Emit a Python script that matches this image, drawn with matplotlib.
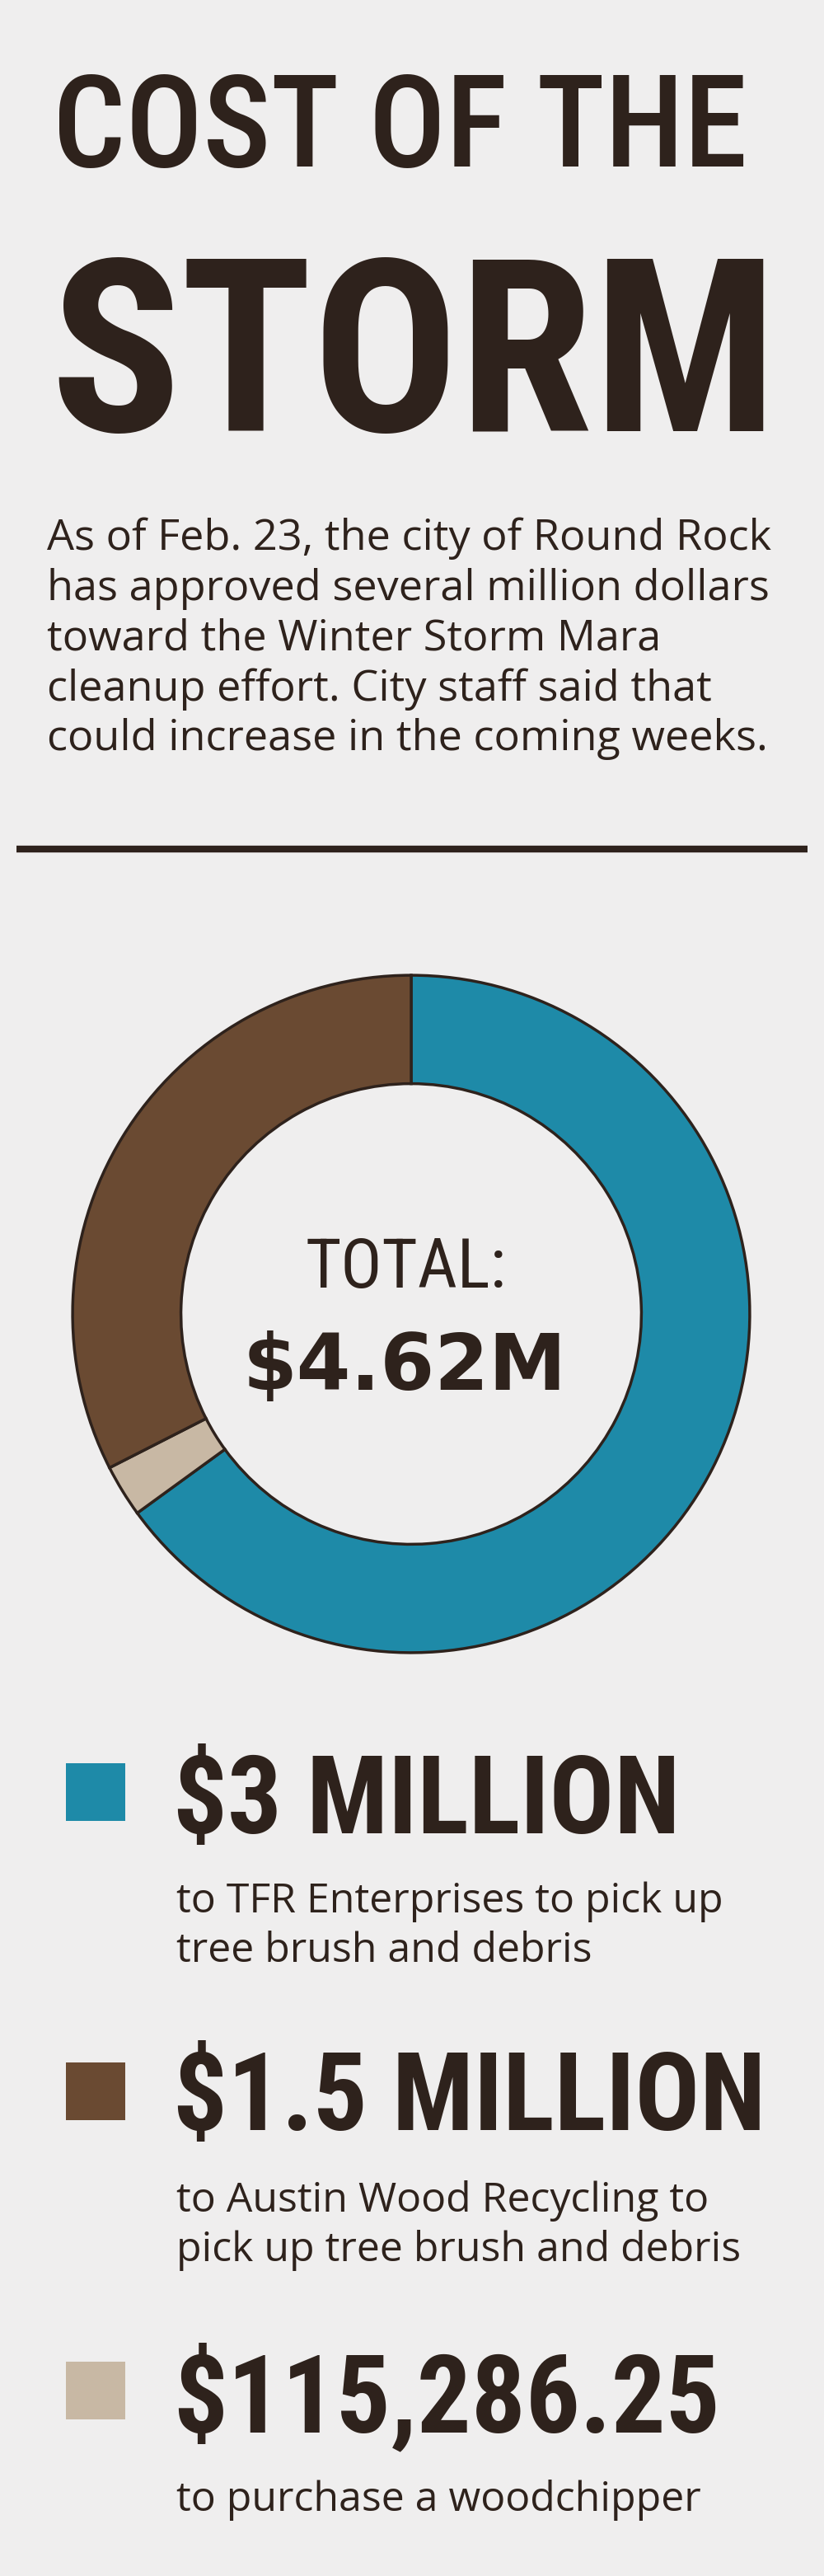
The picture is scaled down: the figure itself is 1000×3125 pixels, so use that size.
import matplotlib.pyplot as plt
from matplotlib.patches import Rectangle

# data
labels = ['$3 MILLION', '$1.5 MILLION', '$115,286.25']
values = [3000000, 1500000, 115286.25]
descriptions = ['to TFR Enterprises to pick up\ntree brush and debris',
                'to Austin Wood Recycling to\npick up tree brush and debris',
                'to purchase a woodchipper']
colors = ['#1e8aa8', '#6a4a32', '#c8b8a4']
ring_order = [0, 2, 1]  # teal, beige, brown going clockwise from the top
total_label = 'TOTAL:'
total_value = '$4.62M'
title1 = 'COST OF THE'
title2 = 'STORM'
intro = ('As of Feb. 23, the city of Round Rock\n'
         'has approved several million dollars\n'
         'toward the Winter Storm Mara\n'
         'cleanup effort. City staff said that\n'
         'could increase in the coming weeks.')

bg = '#efeeee'
ink = '#2e221c'
narrow = ['Liberation Sans Narrow', 'Roboto Condensed', 'DejaVu Sans']
body = ['Open Sans', 'Noto Sans', 'DejaVu Sans']

fig = plt.figure(figsize=(10, 31.25), dpi=100)
fig.patch.set_facecolor(bg)

# full-page axes in pixel coordinates (y downward)
page = fig.add_axes([0, 0, 1, 1])
page.set_xlim(0, 1000)
page.set_ylim(3125, 0)
page.axis('off')

page.text(64, 202, title1, family=narrow, fontsize=112, fontweight='medium',
          color=ink, va='baseline', ha='left')
page.text(60, 523, title2, family=narrow, fontsize=212, fontweight='bold',
          color=ink, va='baseline', ha='left')
page.text(57, 628, intro, family=body, fontsize=37.6, color=ink,
          va='top', ha='left', linespacing=1.245)
page.plot([20, 980], [1030, 1030], color=ink, lw=6, solid_capstyle='butt')

# donut
ax = fig.add_axes([0.084, (3125 - 1594 - 415) / 3125, 0.83, 830 / 3125])
ax.pie([values[i] for i in ring_order], colors=[colors[i] for i in ring_order],
       startangle=90, counterclock=False, radius=1,
       wedgeprops=dict(width=0.32, edgecolor=ink, linewidth=2.5))
ax.set_xlim(-1.01, 1.01)
ax.set_ylim(-1.01, 1.01)
ax.set_aspect('equal')
ax.axis('off')

page.text(493, 1539, total_label, family=narrow, fontsize=60, fontweight='normal',
          color=ink, ha='center', va='center')
page.text(491, 1660, total_value, family='DejaVu Sans', fontsize=68,
          fontweight='bold', color=ink, ha='center', va='center')

# legend
head_y = [2224, 2584, 2950]
box_y = [2139, 2502, 2865]
desc_y = [2283, 2645, 3008]
for i in range(len(labels)):
    page.add_patch(Rectangle((80, box_y[i]), 72, 70, facecolor=colors[i],
                             edgecolor='none'))
    page.text(210, head_y[i], labels[i], family=narrow, fontsize=94,
              fontweight='bold', color=ink, ha='left', va='baseline')
    page.text(214, desc_y[i], descriptions[i], family=body, fontsize=36,
              color=ink, ha='left', va='top', linespacing=1.27)

fig.savefig('out.png', dpi=100, facecolor=bg)
